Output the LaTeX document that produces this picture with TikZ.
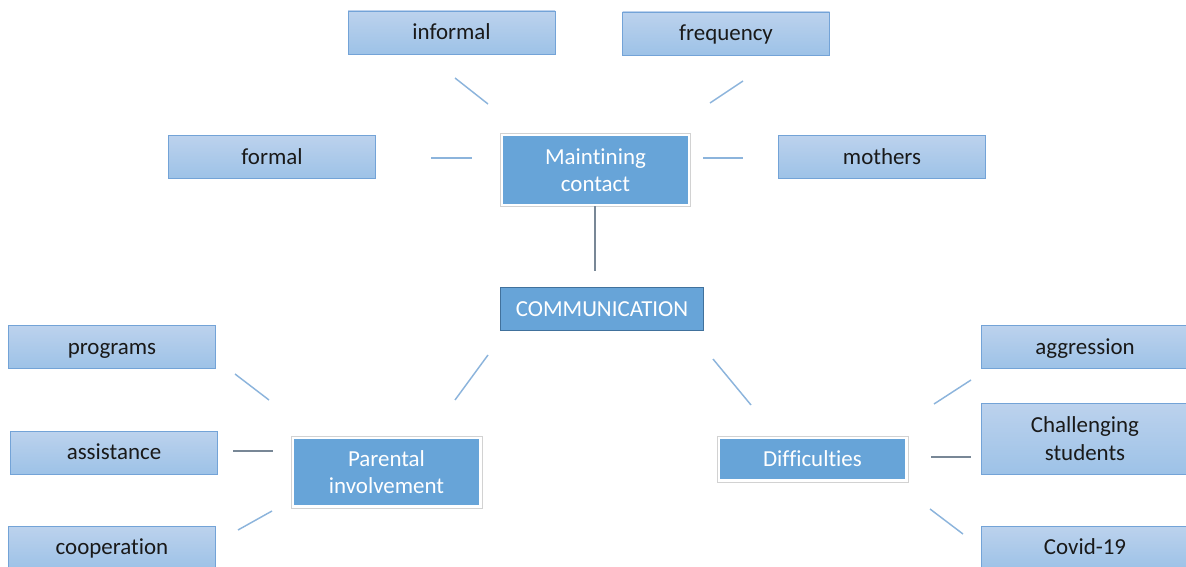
\documentclass[tikz,border=0pt]{standalone}
\usepackage{fontspec}
\setmainfont[Ligatures=NoCommon]{Carlito}
\definecolor{lighttop}{RGB}{188,210,237}
\definecolor{lightbot}{RGB}{157,194,231}
\definecolor{lightborder}{RGB}{115,163,215}
\definecolor{mainfill}{RGB}{103,164,216}
\definecolor{mainborder}{RGB}{65,113,156}
\definecolor{linkblue}{RGB}{140,180,220}
\definecolor{linkgray}{RGB}{120,135,150}
\definecolor{txt}{RGB}{25,25,25}
\tikzset{
  leafbase/.style={rectangle, draw=lightborder, line width=0.7pt, top color=lighttop, bottom color=lightbot,
    minimum width=207*0.75pt, minimum height=43*0.75pt, inner sep=0pt, align=center,
    text=txt, font=\fontsize{17.2}{20.5}\selectfont},
  leaf/.style={leafbase, text height=14pt, text depth=3pt},
  hubframe/.style={rectangle, draw=gray!35, line width=0.6pt, fill=white, inner sep=0pt},
  hubin/.style={rectangle, fill=mainfill, inner sep=0pt, align=center, text=white,
    font=\fontsize{17.2}{20.5}\selectfont},
  link/.style={draw=linkblue, line width=1.1pt},
  darklink/.style={draw=linkgray, line width=1.1pt}
}
\begin{document}
\begin{tikzpicture}[x=0.75pt,y=-0.75pt]
\useasboundingbox (0,0) rectangle (1186,567);
\clip (0,0) rectangle (1186,567);
% leaves
\node[leaf] (informal) at (451.5,32.5) {informal};
\node[leaf] (frequency) at (726,33.5) {frequency};
\node[leaf] (formal) at (272,157) {formal};
\node[leaf] (mothers) at (882,157) {mothers};
\node[leaf] (programs) at (112,347) {programs};
\node[leaf] (assistance) at (114,452.5) {assistance};
\node[leaf] (cooperation) at (112,547.5) {cooperation};
\node[leaf] (aggression) at (1085,347) {aggression};
\node[leafbase, minimum height=71*0.75pt] (challenging) at (1085,438.5) {Challenging\\students};
\node[leaf] (covid) at (1085,547.5) {Covid-19};
% hubs
\node[hubframe, minimum width=190*0.75pt, minimum height=73*0.75pt] (mcframe) at (595.5,170) {};
\node[hubin, minimum width=185*0.75pt, minimum height=68*0.75pt] (mc) at (595.5,170) {Maintining\\contact};
\node[rectangle, fill=mainfill, draw=mainborder, line width=1.4pt, minimum width=203*0.75pt, minimum height=43*0.75pt,
  inner sep=0pt, text=white, font=\fontsize{17.2}{20.5}\selectfont] (comm) at (602,309) {COMMUNICATION};
\node[hubframe, minimum width=191*0.75pt, minimum height=72*0.75pt] (piframe) at (386.5,472) {};
\node[hubin, minimum width=185*0.75pt, minimum height=66*0.75pt] (pi) at (386.5,472) {Parental\\involvement};
\node[hubframe, minimum width=191*0.75pt, minimum height=46*0.75pt] (difframe) at (812.5,459) {};
\node[hubin, minimum width=185*0.75pt, minimum height=40*0.75pt, text height=14pt, text depth=3pt] (dif) at (812.5,459) {Difficulties};
% connector coordinates
\coordinate (a1) at (455,78); \coordinate (a2) at (488,104);
\coordinate (b1) at (743,81); \coordinate (b2) at (710,103);
\coordinate (c1) at (431,158); \coordinate (c2) at (472,158);
\coordinate (d1) at (703,158); \coordinate (d2) at (743,158);
\coordinate (e1) at (595,206); \coordinate (e2) at (595,271);
\coordinate (f1) at (488,355); \coordinate (f2) at (455,400);
\coordinate (g1) at (713,359); \coordinate (g2) at (751,405);
\coordinate (h1) at (235,374); \coordinate (h2) at (269,400);
\coordinate (i1) at (233,451); \coordinate (i2) at (273,451);
\coordinate (j1) at (238,530); \coordinate (j2) at (272,511);
\coordinate (k1) at (971,380); \coordinate (k2) at (934,404);
\coordinate (l1) at (931,457); \coordinate (l2) at (971,457);
\coordinate (m1) at (930,509); \coordinate (m2) at (963,534);
\draw[link] (a1) -- (a2);
\draw[link] (b1) -- (b2);
\draw[link] (c1) -- (c2);
\draw[link] (d1) -- (d2);
\draw[darklink] (e1) -- (e2);
\draw[link] (f1) -- (f2);
\draw[link] (g1) -- (g2);
\draw[link] (h1) -- (h2);
\draw[darklink] (i1) -- (i2);
\draw[link] (j1) -- (j2);
\draw[link] (k1) -- (k2);
\draw[darklink] (l1) -- (l2);
\draw[link] (m1) -- (m2);
\end{tikzpicture}
\end{document}
